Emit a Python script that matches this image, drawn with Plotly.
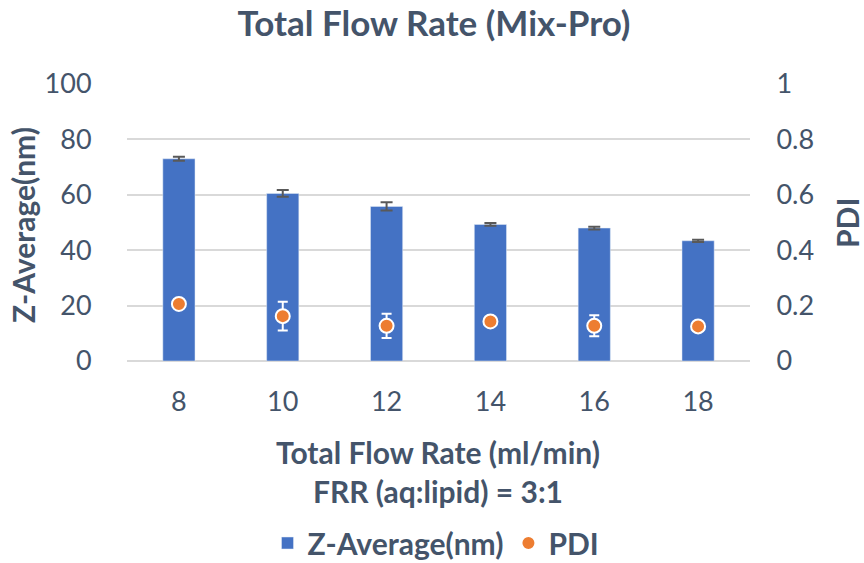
import plotly.graph_objects as go

flow_rates = ["8", "10", "12", "14", "16", "18"]
z_average = [73.0, 60.5, 55.8, 49.3, 48.0, 43.4]
z_err = [0.7, 1.2, 1.5, 0.5, 0.5, 0.4]
pdi = [0.206, 0.162, 0.127, 0.143, 0.127, 0.125]
pdi_err = [0.0, 0.052, 0.044, 0.0, 0.038, 0.0]
pdi_ticks = [0, 0.2, 0.4, 0.6, 0.8, 1]
pdi_ticktext = ["0", "0.2", "0.4", "0.6", "0.8", "1"]

TXT = "#44546A"
FONT = "Lato"
W, H = 864, 563
# plot area in pixel coordinates
PL, PR, PT, PB = 127, 750, 84, 361
L, R, T, B = PL, W - PR, PT, H - PB
PW = PR - PL
PH = PB - PT


def px_x(p):
    return (p - PL) / PW


def px_y(p):
    return (PB - p) / PH


fig = go.Figure()
fig.add_trace(go.Bar(
    x=flow_rates, y=z_average, name="Z-Average(nm)",
    marker=dict(color="#4472C4"), width=0.31,
    error_y=dict(type="data", array=z_err, visible=True, color="#595959", thickness=2, width=6),
))
fig.add_trace(go.Scatter(
    x=flow_rates, y=pdi, name="PDI", yaxis="y2", mode="markers",
    marker=dict(color="#ED7D31", size=14, line=dict(color="white", width=2)),
    error_y=dict(type="data", array=pdi_err, visible=True, color="white", thickness=2, width=5),
))

tick_font = dict(size=27, color=TXT, family=FONT)
fig.update_layout(
    width=W, height=H,
    paper_bgcolor="white", plot_bgcolor="white",
    margin=dict(l=L, r=R, t=T, b=B, autoexpand=False),
    font=dict(family=FONT, color=TXT, size=20),
    title=dict(text="<b>Total Flow Rate (Mix-Pro)</b>", x=434 / W, xanchor="center",
               y=1 - 24 / H, yanchor="middle", font=dict(size=35, color=TXT, family=FONT)),
    xaxis=dict(
        tickfont=tick_font, showline=False, showgrid=False, automargin=False,
        ticks="outside", ticklen=17, tickcolor="rgba(0,0,0,0)",
    ),
    yaxis=dict(
        range=[0, 100], dtick=20, tickfont=tick_font, automargin=False,
        showgrid=True, gridcolor="#D9D9D9", gridwidth=1.5,
        zeroline=True, zerolinecolor="#D9D9D9", zerolinewidth=1.5,
        ticks="outside", ticklen=29, tickcolor="rgba(0,0,0,0)",
    ),
    yaxis2=dict(
        overlaying="y", side="right", range=[0, 1], tickfont=tick_font, automargin=False,
        showgrid=False, zeroline=False,
        tickvals=pdi_ticks, ticktext=pdi_ticktext,
        ticks="outside", ticklen=20, tickcolor="rgba(0,0,0,0)",
    ),
    legend=dict(orientation="h", x=px_x(436), xanchor="center", y=px_y(543), yanchor="middle",
                font=dict(size=30, color=TXT, family=FONT, weight="bold")),
    showlegend=True,
)

ann_font = dict(size=30, color=TXT, family=FONT, weight="bold")
fig.add_annotation(text="Total Flow Rate (ml/min)", xref="paper", yref="paper",
                   x=px_x(438), y=px_y(452), xanchor="center", yanchor="middle", showarrow=False, font=ann_font)
fig.add_annotation(text="FRR (aq:lipid) = 3:1", xref="paper", yref="paper",
                   x=px_x(438), y=px_y(491), xanchor="center", yanchor="middle", showarrow=False, font=ann_font)
fig.add_annotation(text="Z-Average(nm)", xref="paper", yref="paper", textangle=-90,
                   x=px_x(23), y=px_y(225), xanchor="center", yanchor="middle", showarrow=False, font=ann_font)
fig.add_annotation(text="PDI", xref="paper", yref="paper", textangle=-90,
                   x=px_x(847), y=px_y(223), xanchor="center", yanchor="middle", showarrow=False, font=ann_font)

fig.write_html("out.html", config={"displayModeBar": False},
               post_script="document.body.style.margin='0';")
